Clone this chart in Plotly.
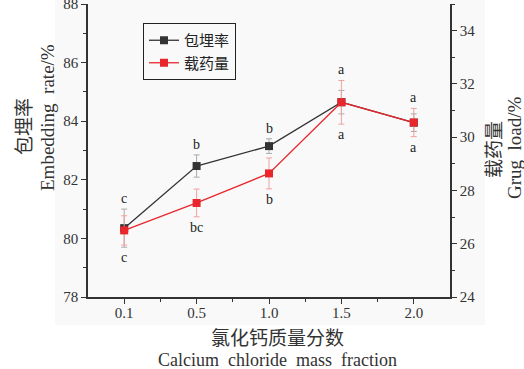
import plotly.graph_objects as go

# Calcium chloride mass fraction (category labels)
fractions = ["0.1", "0.5", "1.0", "1.5", "2.0"]
# Embedding rate (%) and standard deviation
embed_rate = [80.35, 82.47, 83.15, 84.65, 83.95]
embed_err = [0.65, 0.38, 0.25, 0.40, 0.30]
# Drug load (%) and standard deviation
drug_load = [26.50, 27.53, 28.64, 31.31, 30.55]
drug_err = [0.55, 0.52, 0.58, 0.82, 0.53]
# Significance letters
embed_sig = ["c", "b", "b", "a", "a"]
load_sig = ["c", "bc", "b", "a", "a"]

Y1 = (78, 88)
Y2 = (24, 35)
W, H = 524, 369
ML, MR, MT, MB = 88, 74, 4, 72
PW, PH = W - ML - MR, H - MT - MB

SERIF = "Liberation Serif"
CJK = "Noto Sans CJK SC"
TXT = "#333333"

xs = list(range(len(fractions)))

fig = go.Figure()
fig.add_trace(go.Scatter(
    x=xs, y=embed_rate, name="包埋率", mode="lines+markers",
    line=dict(color="#333333", width=1.3),
    marker=dict(symbol="square", size=8, color="#333333"),
    error_y=dict(type="data", array=embed_err, color="#aaaaaa", thickness=1, width=3),
))
fig.add_trace(go.Scatter(
    x=xs, y=drug_load, name="载药量", mode="lines+markers", yaxis="y2",
    line=dict(color="#e8262c", width=1.3),
    marker=dict(symbol="square", size=8, color="#e8262c"),
    error_y=dict(type="data", array=drug_err, color="#f0a0a0", thickness=1, width=3),
))


def to_left(v):
    return Y1[0] + (v - Y2[0]) * (Y1[1] - Y1[0]) / (Y2[1] - Y2[0])


annotations = []
for i in xs:
    top = max(embed_rate[i] + embed_err[i], to_left(drug_load[i] + drug_err[i]))
    bot = min(embed_rate[i] - embed_err[i], to_left(drug_load[i] - drug_err[i]))
    annotations.append(dict(x=i, y=top, xref="x", yref="y", text=embed_sig[i],
                            showarrow=False, xanchor="center", yanchor="bottom", yshift=1,
                            font=dict(family=SERIF, size=14, color="#222")))
    annotations.append(dict(x=i, y=bot, xref="x", yref="y", text=load_sig[i],
                            showarrow=False, xanchor="center", yanchor="top", yshift=-1,
                            font=dict(family=SERIF, size=14, color="#222")))


def px_x(p):
    return (p - ML) / PW


def px_y(p):
    return (H - MB - p) / PH


def title(text, cx, cy, family, size, angle=0):
    return dict(x=px_x(cx), y=px_y(cy), xref="paper", yref="paper", text=text,
                textangle=angle, showarrow=False, xanchor="center", yanchor="middle",
                font=dict(family=family, size=size, color=TXT))


# Axis titles (two-line, Chinese + English)
annotations += [
    title("包埋率", 22, 127, CJK, 19, -90),
    title("Embedding  rate/%", 47, 118, SERIF, 19, -90),
    title("载药量", 492, 150, CJK, 19, -90),
    title("Grug  load/%", 514, 148, SERIF, 19, -90),
    title("氯化钙质量分数", 277, 336, CJK, 19),
    title("Calcium  chloride  mass  fraction", 277, 360, SERIF, 18),
]

axis_common = dict(
    showgrid=False, zeroline=False, showline=True, linecolor="#333333", linewidth=1.5,
    ticks="outside", ticklen=5, tickwidth=1.2, tickcolor="#333333",
    tickfont=dict(family=SERIF, size=15, color=TXT), ticklabeloverflow="allow",
    automargin=False,
)

fig.update_layout(
    width=W, height=H,
    margin=dict(l=ML, r=MR, t=MT, b=MB),
    paper_bgcolor="white", plot_bgcolor="rgba(0,0,0,0)",
    showlegend=True,
    legend=dict(
        x=px_x(143), y=px_y(23), xanchor="left", yanchor="top",
        bordercolor="#222", borderwidth=1, bgcolor="#f9f9f9",
        font=dict(family=CJK, size=15, color="#222"),
        itemwidth=30, tracegroupgap=0,
    ),
    xaxis=dict(
        **axis_common, range=[-0.5, 4.5], tickvals=xs, ticktext=fractions,
        ticklabelstandoff=-4,
        minor=dict(tickvals=[0.5, 1.5, 2.5, 3.5], ticks="outside", ticklen=3, tickcolor="#333333"),
    ),
    yaxis=dict(
        **axis_common, range=list(Y1), dtick=2, tick0=78,
        minor=dict(dtick=1, ticks="outside", ticklen=3, tickcolor="#333333"),
    ),
    yaxis2=dict(
        **axis_common, range=list(Y2), dtick=2, tick0=24, overlaying="y", side="right",
        minor=dict(dtick=1, ticks="outside", ticklen=3, tickcolor="#333333"),
    ),
    annotations=annotations,
    shapes=[dict(type="rect", xref="paper", yref="paper", layer="below",
                 x0=px_x(55), x1=px_x(485), y0=px_y(325), y1=px_y(0),
                 fillcolor="#f9f9f9", line=dict(width=0))],
)

fig.write_html("out.html")
